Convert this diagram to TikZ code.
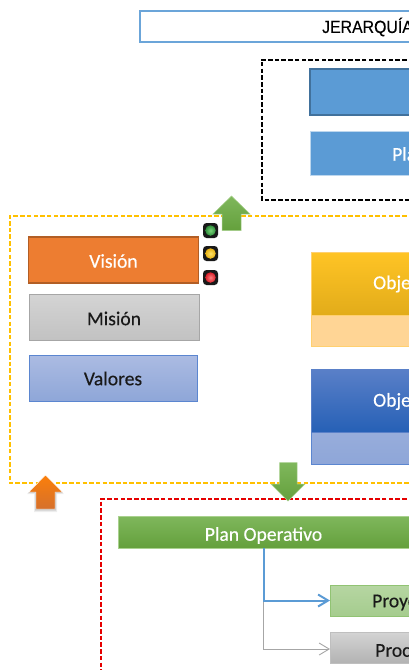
\documentclass[tikz,border=0pt]{standalone}
\usepackage{fontspec}
\setmainfont{Carlito}
\newfontfamily\labfont[FakeBold=0.35]{Carlito}
\newfontfamily\titlefont[FakeStretch=0.9,FakeBold=0.25]{Liberation Sans}
\usetikzlibrary{arrows.meta,calc}
\definecolor{azul}{HTML}{5B9BD5}
\definecolor{azulosc}{HTML}{41719C}
\definecolor{azulclaro}{HTML}{BDD7EE}
\definecolor{amar}{HTML}{FFC000}
\definecolor{naran}{HTML}{ED7D31}
\definecolor{valtop}{HTML}{ABBBE2}
\definecolor{valbot}{HTML}{8EA6D8}
\definecolor{valbd}{HTML}{5B86D0}
\definecolor{ambtop}{HTML}{FFC425}
\definecolor{ambbot}{HTML}{E2AC1A}
\definecolor{ambclaro}{HTML}{FFD595}
\definecolor{ambbd}{HTML}{FFD070}
\definecolor{azutop}{HTML}{5A80C8}
\definecolor{azubot}{HTML}{2660B6}
\definecolor{vertop}{HTML}{7FB75C}
\definecolor{verbot}{HTML}{64A03C}
\definecolor{verbd}{HTML}{A9D18E}
\definecolor{prytop}{HTML}{B6D6A2}
\definecolor{prybot}{HTML}{A5CC8E}
\definecolor{prybd}{HTML}{91C373}
\definecolor{lgi}{HTML}{7AD67A}
\definecolor{lgo}{HTML}{2E8B3A}
\definecolor{lyi}{HTML}{FFE46A}
\definecolor{lyo}{HTML}{E8B010}
\definecolor{lri}{HTML}{FF8080}
\definecolor{lro}{HTML}{D81E28}
\tikzset{
  box/.style={draw,anchor=north west,inner sep=0pt,outer sep=0pt,line width=1pt},
  lab/.style={inner sep=0pt,font=\labfont\fontsize{19.6}{22}\selectfont},
  wlab/.style={lab,text=white},
  klab/.style={lab,text=black!90},
  dashbox/.style={line width=2pt,dash pattern=on 4.5pt off 2.2pt},
  lamp/.style={circle,minimum size=10.5pt,inner sep=0pt},
  lampbase/.style={draw=none,fill=black!90,rounded corners=3.5pt},
  verdeflecha/.style={draw=verbd,line width=.5pt,top color=vertop,bottom color=verbot},
}
\begin{document}
\begin{tikzpicture}[x=1pt,y=-1pt]
\useasboundingbox (0,0) rectangle (409,670);
\clip (0,0) rectangle (409,670);
\fill[white] (0,0) rectangle (409,670);
% title
\node[box,draw=azul!90!white,line width=2pt,minimum width=290pt,minimum height=31pt] (titulo) at (139.5,10.5) {};
\node[anchor=west,inner sep=0pt,font=\titlefont\fontsize{17.6}{20}\selectfont] (titulotx) at (322,27) {JERARQUÍA};
% dashed frames
\draw[dashbox,black] (440,59.5) -- (261.5,59.5) -- (261.5,199.5) -- (440,199.5);
\draw[dashbox,amar] (440,216) -- (9.5,216) -- (9.5,483) -- (440,483);
\draw[dashbox,red!90!black] (440,499) -- (101,499) -- (101,690);
% strategic boxes
\node[box,fill=azul,draw=azulosc,line width=2pt,minimum width=120pt,minimum height=46pt] (b1) at (309.5,68.5) {};
\node[box,fill=azul,draw=azulclaro,line width=.6pt,minimum width=120pt,minimum height=44pt] (b2) at (310.5,131) {};
\node[wlab,anchor=west] (b2tx) at (392,154) {Pla};
% left column
\node[box,fill=naran,draw=naran!75!black,line width=1.4pt,minimum width=170pt,minimum height=46pt] (vision) at (28.5,237) {};
\node[wlab] (visiontx) at ($(vision.center)+(0,1)$) {Visión};
\node[box,top color=black!17,bottom color=black!24,draw=black!35,minimum width=170pt,minimum height=46pt] (mision) at (29,294.5) {};
\node[klab] (misiontx) at ($(mision.center)+(0,1)$) {Misión};
\node[box,top color=valtop,bottom color=valbot,draw=valbd,minimum width=168pt,minimum height=46pt] (valores) at (29,355.5) {};
\node[klab] (valorestx) at (valores.center) {Valores};
% lights
\fill[lampbase] (203,223) rectangle (218,238);
\fill[lampbase] (203,246) rectangle (218,261);
\fill[lampbase] (203,270) rectangle (218,285);
\node[lamp,inner color=lgi,outer color=lgo] (l1) at (210.5,230.5) {};
\node[lamp,inner color=lyi,outer color=lyo] (l2) at (210.5,253.5) {};
\node[lamp,inner color=lri,outer color=lro] (l3) at (210.5,277.5) {};
% objectives
\node[box,fill=ambclaro,draw=ambbd,line width=.8pt,minimum width=120pt,minimum height=94pt] (o1) at (311.5,252) {};
\node[box,top color=ambtop,bottom color=ambbot,draw=ambbd,line width=.8pt,minimum width=120pt,minimum height=63pt] (o1t) at (311.5,252) {};
\node[wlab,anchor=west] (o1tx) at (373,284) {Obje};
\node[box,top color=valtop,bottom color=valbot,draw=valbd,line width=.8pt,minimum width=120pt,minimum height=95pt] (o2) at (311.5,369) {};
\node[box,top color=azutop,bottom color=azubot,draw=azutop,line width=.8pt,minimum width=120pt,minimum height=63pt] (o2t) at (311.5,369) {};
\node[wlab,anchor=west] (o2tx) at (373,401.5) {Obje};
% block arrows
\fill[black,opacity=.07] (45.5,477) -- (64,494) -- (57,494) -- (57,512) -- (34,512) -- (34,494) -- (27,494) -- cycle;
\fill[black,opacity=.12] (45.5,477) -- (63,493) -- (56,493) -- (56,510.5) -- (35,510.5) -- (35,493) -- (28,493) -- cycle;
\draw[draw=white,line width=.4pt,top color=orange!80!naran,bottom color=naran!90!black] (45.5,475) -- (62.5,492) -- (55,492) -- (55,509) -- (36,509) -- (36,492) -- (29,492) -- cycle;
\draw[verdeflecha] (231.5,196) -- (250,214) -- (241,214) -- (241,230.5) -- (222,230.5) -- (222,214) -- (213,214) -- cycle;
\draw[verdeflecha] (279.5,462.5) -- (297,462.5) -- (297,484) -- (305,484) -- (288,501) -- (271,484) -- (279.5,484) -- cycle;
% operational plan
\node[box,top color=vertop,bottom color=verbot,draw=verbd,line width=.6pt,minimum width=291pt,minimum height=32pt] (plan) at (118,516) {};
\node[wlab] (plantx) at (263.5,535.5) {Plan Operativo};
\node[box,top color=prytop,bottom color=prybot,draw=prybd,line width=.7pt,minimum width=100pt,minimum height=31pt] (proy) at (330,585) {};
\node[klab,anchor=west] (proytx) at (372,602.5) {Proye};
\node[box,top color=black!17,bottom color=black!30,draw=black!25,line width=.7pt,minimum width=100pt,minimum height=31pt] (proc) at (330,632) {};
\node[klab,anchor=west] (proctx) at (375,650.5) {Proc};
% connectors
\coordinate (cod) at (263.5,600.5);
\coordinate (plansal) at (plan.south -| cod);
\coordinate (proysal) at (proy.west |- cod);
\coordinate (cod2) at (263.5,649);
\coordinate (procsal) at (proc.west |- cod2);
\draw[black!35,line width=.9pt,-{Straight Barb[length=10pt,width=12pt]}] (cod) -- (cod2) -- (procsal);
\draw[azul,line width=2pt,-{Straight Barb[length=10pt,width=12pt]}] (plansal) -- (cod) -- (proysal);
\end{tikzpicture}
\end{document}
